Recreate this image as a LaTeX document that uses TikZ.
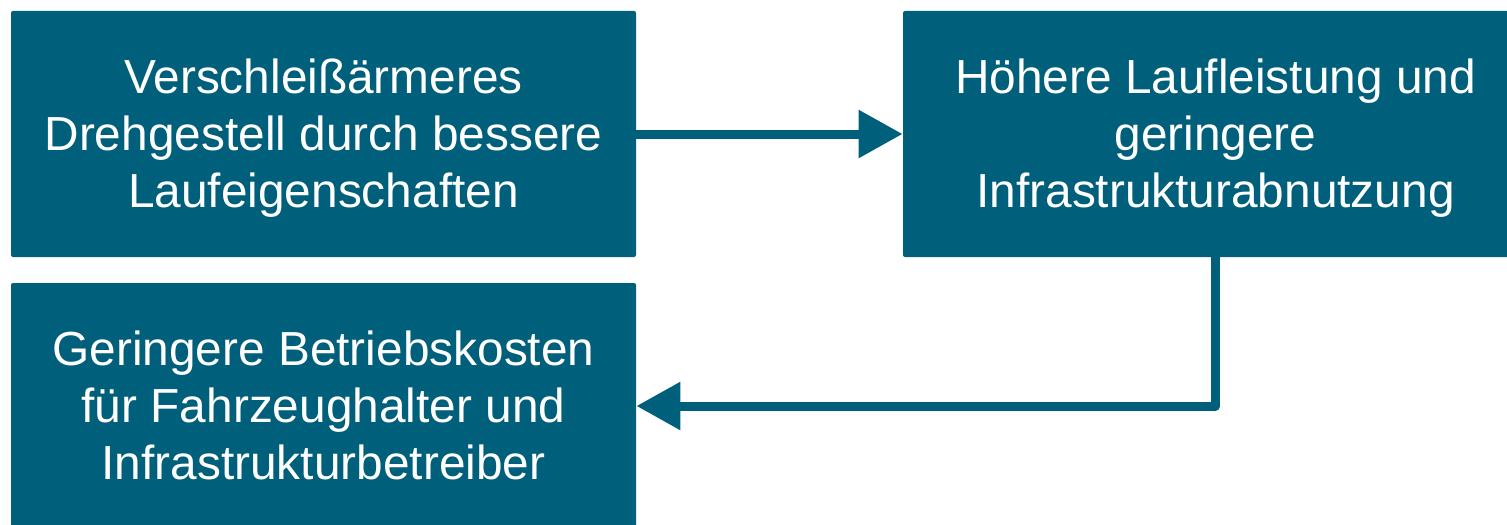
\documentclass[tikz,border=0pt]{standalone}
\usepackage{fontspec}
\setmainfont{Liberation Sans}
\usepackage{tikz}
\usetikzlibrary{arrows.meta, positioning}
\definecolor{mteal}{HTML}{005F7A}
\newcommand{\tstrut}{\rule[-5pt]{0pt}{26pt}}
\tikzset{
  tbox/.style={fill=mteal, text=white, rounded corners=1pt, inner sep=0pt,
               minimum width=312.5pt, minimum height=123pt, align=center,
               font=\fontsize{23.9pt}{28.5pt}\selectfont},
  arr/.style={-{Triangle[length=22pt, width=23pt]}, line width=4.5pt, mteal},
}
\begin{document}
\begin{tikzpicture}[x=0.5pt, y=-0.5pt]
  \useasboundingbox (0,0) rectangle (1507,524);

  \node[tbox] (wear) at (323.5,134)
    {\tstrut Verschlei\ss{}ärmeres\\Drehgestell durch bessere\\Laufeigenschaften\tstrut};

  \node[tbox] (mileage) at (1215.5,134)
    {\tstrut Höhere Laufleistung und\\geringere\\Infrastrukturabnutzung\tstrut};

  \node[tbox] (costs) at (323.5,406)
    {\tstrut Geringere Betriebskosten\\für Fahrzeughalter und\\Infrastrukturbetreiber\tstrut};

  \draw[arr] (wear.east) -- (mileage.west);
  \draw[arr, line join=round] (mileage.south) |- (costs.east);
\end{tikzpicture}
\end{document}
